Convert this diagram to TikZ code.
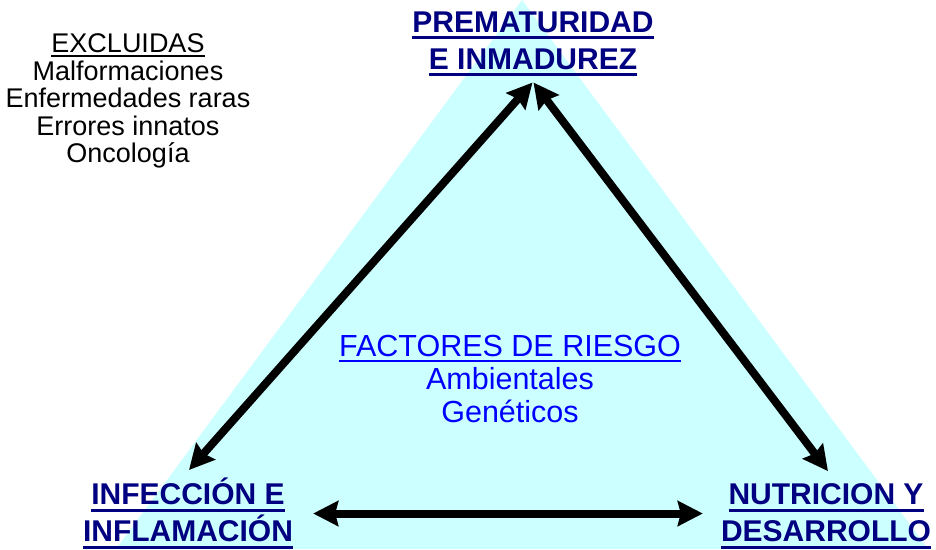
\documentclass[tikz,border=0pt]{standalone}
\usepackage{fontspec}
\setmainfont{Liberation Sans}
\usetikzlibrary{arrows.meta,positioning}
\definecolor{navylbl}{RGB}{0,0,128}
\definecolor{riskblue}{RGB}{0,0,255}
\definecolor{paleaqua}{RGB}{204,255,255}
% underline: #1 depth, #2 thickness, #3 text
\newcommand{\ulbox}[3]{\leavevmode\setbox0=\hbox{#3}\rlap{\rule[-#1]{\wd0}{#2}}\box0}

\begin{document}
\begin{tikzpicture}[x=1pt, y=-1pt,
                    mainlbl/.style={inner sep=0pt, align=center, text=navylbl, font=\fontsize{30}{37}\selectfont\bfseries},
                    risklbl/.style={inner sep=0pt, align=center, text=riskblue, font=\fontsize{30.5}{33}\selectfont},
                    exclbl/.style={inner sep=0pt, align=center, font=\fontsize{27}{27.5}\selectfont},
                    dblarrow/.style={{Stealth[length=25pt,width=25pt,inset=3pt]}-{Stealth[length=25pt,width=25pt,inset=3pt]}, line width=8pt},]
    \useasboundingbox (0,0) rectangle (936,549);
    % background triangle
    \fill[paleaqua] (522,0) -- (928,549) -- (116,549) -- cycle;
    % nodes
    \node[mainlbl, anchor=north]  (prem) at (533,11.5) {\ulbox{7pt}{3pt}{PREMATURIDAD}\\\ulbox{7pt}{3pt}{E INMADUREZ}};
    \node[mainlbl, anchor=south]  (infe) at (188,549)  {\ulbox{7pt}{3pt}{INFECCIÓN E}\\\ulbox{7pt}{3pt}{INFLAMACIÓN}};
    \node[mainlbl, anchor=south]  (nutr) at (826,549)  {\ulbox{7pt}{3pt}{NUTRICION Y}\\\ulbox{7pt}{3pt}{DESARROLLO}};
    \node[risklbl, anchor=north]  (risk) at (510,335)  {\ulbox{5.5pt}{2.5pt}{FACTORES DE RIESGO}\\Ambientales\\Genéticos};
    \node[exclbl, anchor=north]   (excl) at (128,33.7) {\ulbox{4pt}{2pt}{EXCLUIDAS}\\Malformaciones\\Enfermedades raras\\Errores innatos\\Oncología};
    % arrows
    \draw[dblarrow] ([xshift=-0.5pt,yshift=-6pt]prem.south) -- ([xshift=1pt,yshift=8pt]infe.north);
    \draw[dblarrow] ([xshift=0.5pt,yshift=-6pt]prem.south) -- ([xshift=2pt,yshift=12.5pt]nutr.north);
    \draw[dblarrow, shorten <=20pt, shorten >=18pt] (infe.east) -- (infe.east -| nutr.west);
\end{tikzpicture}
\end{document}
